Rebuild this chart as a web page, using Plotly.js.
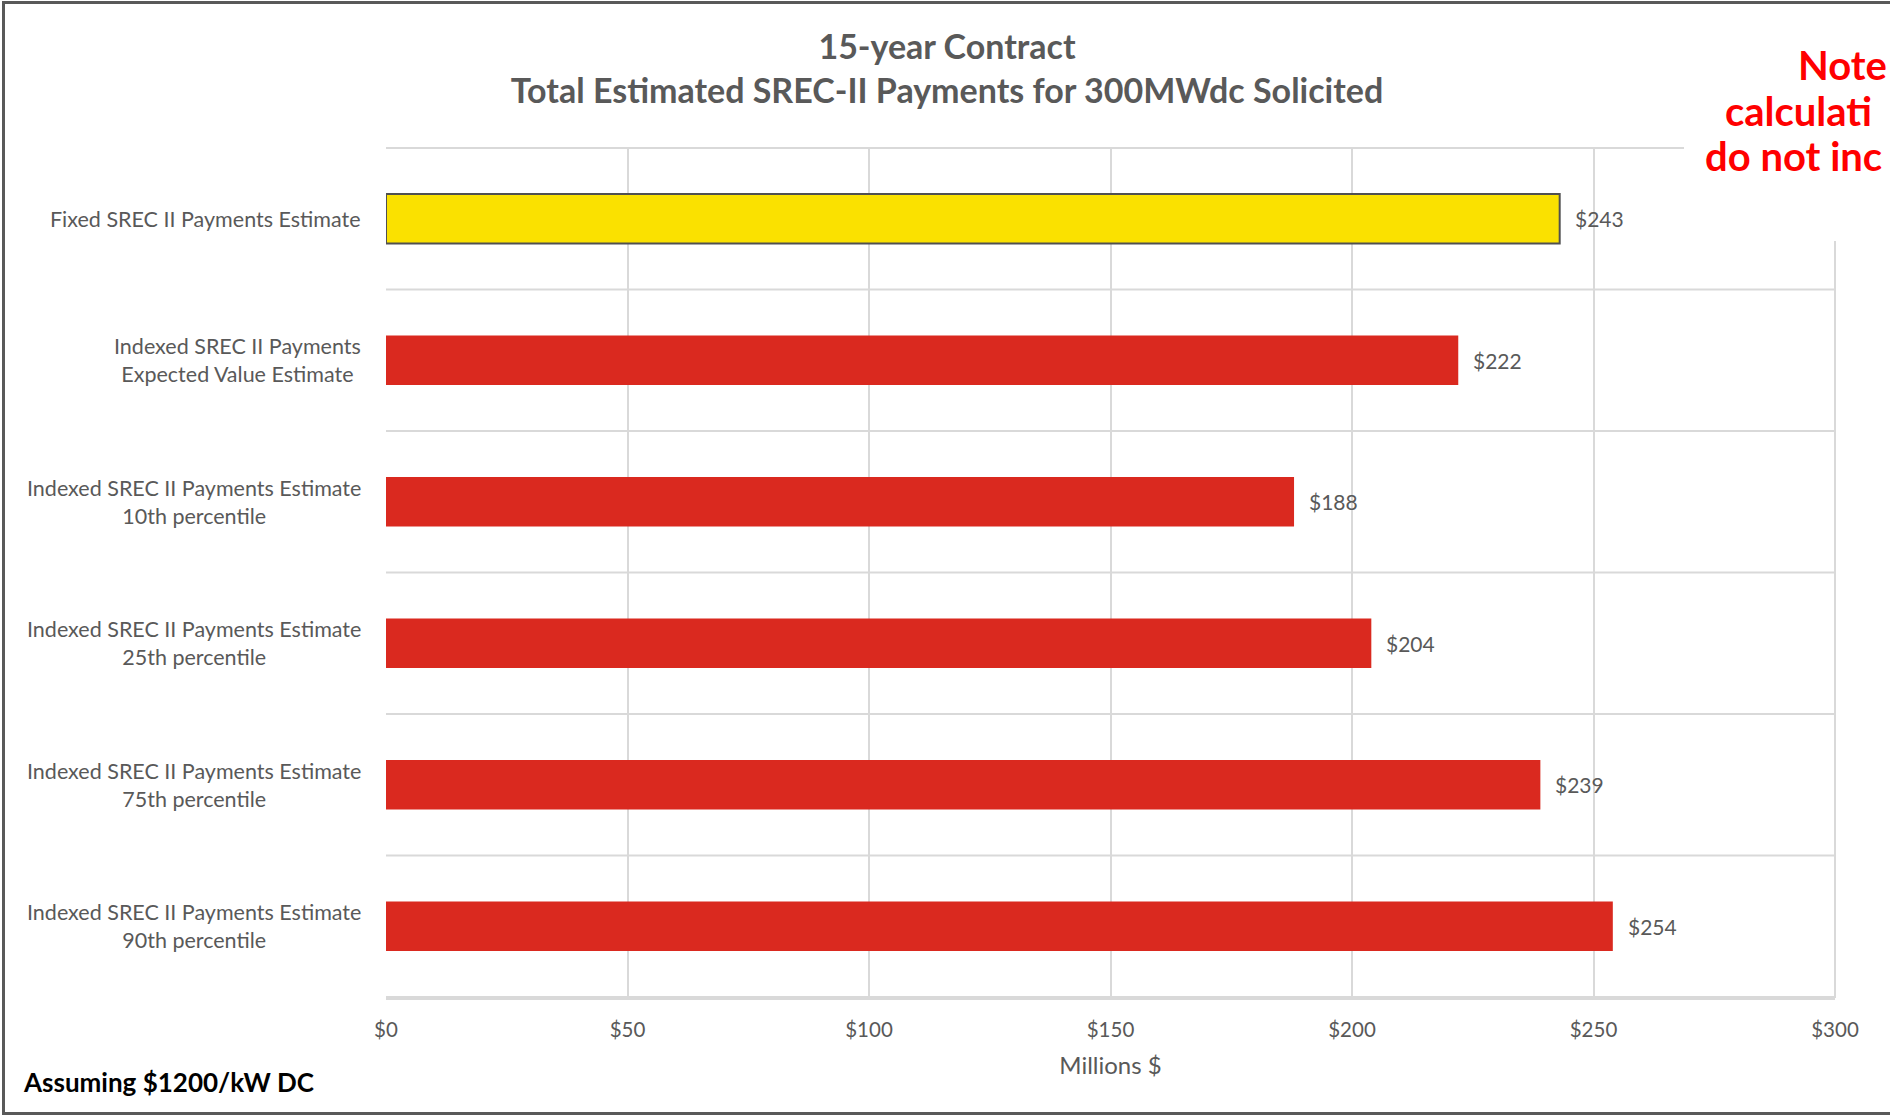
<!DOCTYPE html>
<html>
<head>
<meta charset="utf-8">
<script src="https://cdn.plot.ly/plotly-3.0.1.min.js"></script>
<style>
html,body{margin:0;padding:0;background:#fff;overflow:hidden;}
#chart{width:1890px;height:1116px;}
</style>
</head>
<body>
<div id="chart"></div>
<script>
// ---- data ----
const categories = [
  "Fixed SREC II Payments Estimate",
  "Indexed SREC II Payments<br>Expected Value Estimate",
  "Indexed SREC II Payments Estimate<br>10th percentile",
  "Indexed SREC II Payments Estimate<br>25th percentile",
  "Indexed SREC II Payments Estimate<br>75th percentile",
  "Indexed SREC II Payments Estimate<br>90th percentile"
];
const values = [243, 222, 188, 204, 239, 254];
const barColors = ["#FAE100", "#DA291F", "#DA291F", "#DA291F", "#DA291F", "#DA291F"];
const barOutline = [2, 0, 0, 0, 0, 0];
const xTickVals = [0, 50, 100, 150, 200, 250, 300];
const xTickText = ["$0", "$50", "$100", "$150", "$200", "$250", "$300"];
const titleLines = ["15-year Contract", "Total Estimated SREC-II Payments for 300MWdc Solicited"];
const xTitle = "Millions $";
const footNote = "Assuming $1200/kW DC";
const noteLines = ["Note", "calculati", "do not inc"];

// ---- layout helpers ----
const W = 1890, H = 1116;
const M = {l: 386, r: 55, t: 147, b: 118};
const PW = W - M.l - M.r, PH = H - M.t - M.b;
const px = x => (x - M.l) / PW;
const py = y => (H - M.b - y) / PH;

const gray = "#595959";
const gridCol = "#D9D9D9";
const font = "Lato, 'Open Sans', sans-serif";

const trace = {
  type: "bar",
  orientation: "h",
  x: values,
  y: categories,
  width: 0.35,
  marker: {color: barColors, line: {color: "#505050", width: barOutline}},
  hoverinfo: "skip",
  showlegend: false
};

const annotations = [];
// category labels (centered multi-line)
categories.forEach(c => annotations.push({
  xref: "paper", yref: "y", x: px(363), y: c, xanchor: "right", yanchor: "middle",
  text: c, align: "center", showarrow: false,
  font: {family: font, size: 21.5, color: gray}
}));
// data labels
values.forEach((v, i) => annotations.push({
  xref: "x", yref: "y", x: v, y: categories[i], xanchor: "left", yanchor: "middle",
  xshift: 13, text: "$" + v, showarrow: false,
  font: {family: font, size: 21, color: gray}
}));
// footnote
annotations.push({
  xref: "paper", yref: "paper", x: px(21), y: py(1082), xanchor: "left", yanchor: "middle",
  text: "<b>" + footNote + "</b>", showarrow: false,
  font: {family: font, size: 26, color: "#000000"}
});
// red note fragments
const noteX = [1796, 1723, 1703], noteY = [65, 111, 156];
noteLines.forEach((t, i) => annotations.push({
  xref: "paper", yref: "paper", x: px(noteX[i]), y: py(noteY[i]), xanchor: "left", yanchor: "middle",
  text: "<b>" + t + "</b>", showarrow: false,
  font: {family: font, size: 40, color: "#FF0000"}
}));

const shapes = [];
// horizontal gridlines between categories
for (let k = 0; k <= categories.length; k++) {
  shapes.push({type: "line", xref: "paper", yref: "y", x0: 0, x1: 1, y0: k - 0.5, y1: k - 0.5,
    line: {color: gridCol, width: 2}, layer: "below"});
}
// right edge of plot area (300 gridline)
shapes.push({type: "line", xref: "paper", yref: "paper", x0: 1, x1: 1, y0: 0, y1: 1,
  line: {color: gridCol, width: 2}, layer: "below"});
// white text box behind the note
shapes.push({type: "rect", xref: "paper", yref: "paper", x0: px(1684), x1: px(1950), y0: py(241), y1: py(20),
  fillcolor: "#FFFFFF", line: {width: 0}, layer: "above"});
// outer chart border (right side lies beyond the picture)
shapes.push({type: "rect", xref: "paper", yref: "paper", x0: px(3.5), x1: px(1960), y0: py(1113.5), y1: py(2.5),
  fillcolor: "rgba(0,0,0,0)", line: {color: gray, width: 3}, layer: "above"});

const layout = {
  width: W, height: H,
  margin: M,
  paper_bgcolor: "#FFFFFF", plot_bgcolor: "#FFFFFF",
  font: {family: font, color: gray},
  title: {
    text: "<b>" + titleLines.join("<br>") + "</b>",
    xref: "container", yref: "container",
    x: 947 / W, xanchor: "center", y: 1 - 59 / H, yanchor: "middle",
    font: {family: font, size: 34, color: gray}
  },
  xaxis: {
    range: [0, 300], tickmode: "array", tickvals: xTickVals, ticktext: xTickText,
    showgrid: true, gridcolor: gridCol, gridwidth: 2, zeroline: false,
    showline: true, linecolor: gridCol, linewidth: 2,
    ticks: "", ticklabelstandoff: 12,
    tickfont: {family: font, size: 20.5, color: gray},
    title: {text: xTitle, standoff: 18, font: {family: font, size: 24, color: gray}},
    fixedrange: true, automargin: false
  },
  yaxis: {
    type: "category", autorange: "reversed",
    showticklabels: false, showgrid: false, zeroline: false, ticks: "",
    fixedrange: true, automargin: false
  },
  annotations: annotations,
  shapes: shapes,
  showlegend: false,
  bargap: 0.65
};

Plotly.newPlot("chart", [trace], layout, {displayModeBar: false, staticPlot: true});
</script>
</body>
</html>
